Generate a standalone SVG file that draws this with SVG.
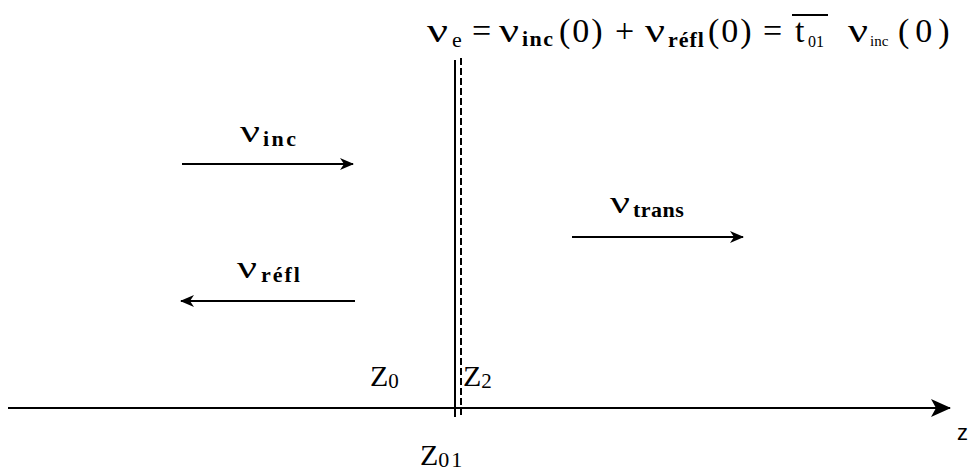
<svg xmlns="http://www.w3.org/2000/svg" width="973" height="476" viewBox="0 0 973 476">
<style>
.t{font-family:"Liberation Serif","Times New Roman",serif;fill:#000}
.m{font-size:34px}
.l{font-size:32px}
.sb{font-size:22px;font-weight:bold}
.ln{stroke:#000;stroke-width:2;fill:none}
</style>
<defs>
<marker id="ah" viewBox="0 0 14 12" refX="13" refY="6" markerWidth="14" markerHeight="12" markerUnits="userSpaceOnUse" orient="auto">
<path d="M0,0 L14,6 L0,12 L4,6 Z" fill="#000"/>
</marker>
<marker id="ahb" viewBox="0 0 20 18" refX="19" refY="9" markerWidth="20" markerHeight="18" markerUnits="userSpaceOnUse" orient="auto">
<path d="M0,0 L20,9 L0,18 L5,9 Z" fill="#000"/>
</marker>
</defs>
<g id="connectors">
<line class="ln" x1="8" y1="408" x2="950" y2="408" marker-end="url(#ahb)"/>
<line class="ln" x1="182" y1="164" x2="353" y2="164" marker-end="url(#ah)"/>
<line class="ln" x1="355" y1="301" x2="181" y2="301" marker-end="url(#ah)"/>
<line class="ln" x1="572" y1="237" x2="743" y2="237" marker-end="url(#ah)"/>
</g>
<g id="interface">
<line x1="455" y1="60" x2="455" y2="417" stroke="#000" stroke-width="2"/>
<line x1="461" y1="58" x2="461" y2="417" stroke="#000" stroke-width="2" stroke-dasharray="7,3"/>
</g>
<g id="equation">
<text class="t m" x="427" y="42" textLength="21" lengthAdjust="spacingAndGlyphs">ν</text>
<text class="t" x="452" y="47" font-size="22">e</text>
<text class="t m" x="472" y="42">=</text>
<text class="t m" x="499" y="42" textLength="20" lengthAdjust="spacingAndGlyphs">ν</text>
<text class="t sb" x="522" y="46" letter-spacing="1.5">inc</text>
<text class="t m" x="559" y="42" letter-spacing="2">(0)</text>
<text class="t m" x="615" y="42">+</text>
<text class="t m" x="645" y="42" textLength="20" lengthAdjust="spacingAndGlyphs">ν</text>
<text class="t sb" x="668" y="47" letter-spacing="1">réfl</text>
<text class="t m" x="708" y="42" letter-spacing="2">(0)</text>
<text class="t m" x="763" y="42">=</text>
<text class="t m" x="795" y="42">t</text>
<line x1="792" y1="15" x2="828" y2="15" stroke="#000" stroke-width="2"/>
<text class="t" x="808" y="47" font-size="16">01</text>
<text class="t m" x="848" y="42" textLength="20" lengthAdjust="spacingAndGlyphs">ν</text>
<text class="t" x="870" y="46" font-size="15">inc</text>
<text class="t m" x="898" y="42" letter-spacing="6">(0)</text>
</g>
<g id="label-inc">
<text class="t l" x="240" y="142" textLength="20" lengthAdjust="spacingAndGlyphs">ν</text>
<text class="t sb" x="263" y="146" letter-spacing="2.5">inc</text>
</g>
<g id="label-refl">
<text class="t l" x="237" y="278" textLength="20" lengthAdjust="spacingAndGlyphs">ν</text>
<text class="t sb" x="261" y="282" letter-spacing="2">réfl</text>
</g>
<g id="label-trans">
<text class="t l" x="610" y="213" textLength="20" lengthAdjust="spacingAndGlyphs">ν</text>
<text class="t sb" x="633" y="217" letter-spacing="0.5">trans</text>
</g>
<g id="label-z0">
<text class="t" x="370" y="386" font-size="30">Z<tspan font-size="21" dy="2">0</tspan></text>
</g>
<g id="label-z2">
<text class="t" x="463" y="386" font-size="30">Z<tspan font-size="21" dy="2">2</tspan></text>
</g>
<g id="label-z01">
<text class="t" x="420" y="465" font-size="30">Z<tspan font-size="22" dy="2" letter-spacing="2">01</tspan></text>
</g>
<g id="label-axis">
<text x="957" y="440" font-family="Liberation Sans, Arial, sans-serif" font-size="22">z</text>
</g>
</svg>
